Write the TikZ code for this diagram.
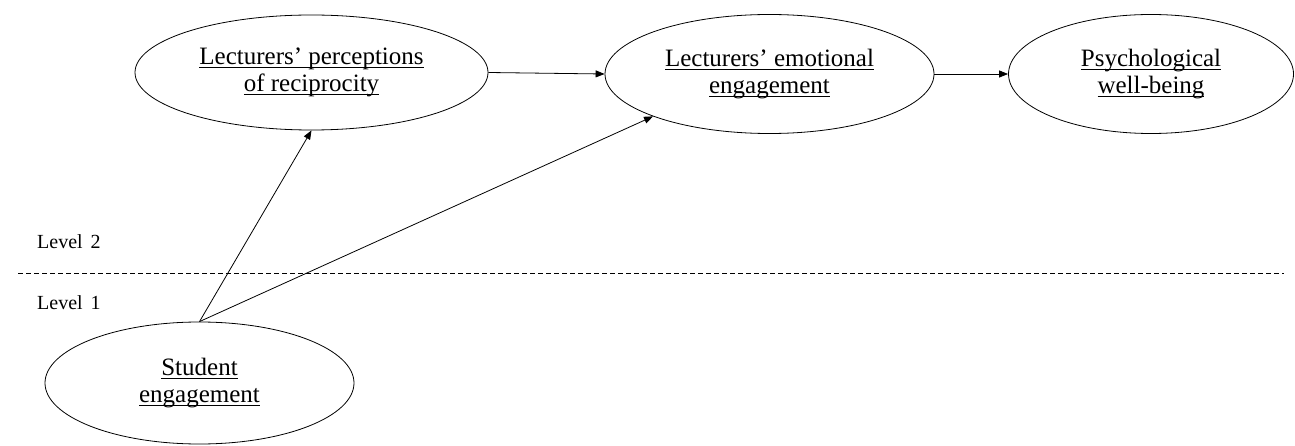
\documentclass[tikz,border=0pt]{standalone}
\usepackage{fontspec}
\setmainfont{Liberation Serif}
\usetikzlibrary{arrows.meta,shapes.geometric}

\newlength{\ulwd}
\newcommand{\uln}[1]{\settowidth{\ulwd}{#1}\rlap{\rule[-3.5pt]{\ulwd}{0.9pt}}#1}

\begin{document}
\begin{tikzpicture}[x=1pt, y=-1pt, >={Triangle[length=9pt,width=7pt]}]

\tikzset{
  latent/.style={draw, ellipse, line width=0.8pt, inner sep=0pt, align=center,
    font=\fontsize{25}{27.5}\selectfont},
  arr/.style={->, line width=0.8pt},
  lvl/.style={anchor=base west, inner sep=0pt, font=\fontsize{20}{24}\selectfont}
}

\useasboundingbox (0,0) rectangle (1295,446);

% --- Nível 2 ---
\node[latent, minimum width=353pt, minimum height=115pt] (recip) at (311.5,72.5)
  {\uln{Lecturers' perceptions}\\\uln{of reciprocity}};
\node[latent, minimum width=329pt, minimum height=119pt] (emot) at (769.5,74)
  {\uln{Lecturers' emotional}\\\uln{engagement}};
\node[latent, minimum width=285pt, minimum height=119pt] (wellb) at (1151,74)
  {\uln{Psychological}\\\uln{well-being}};

% --- Nível 1 ---
\node[latent, minimum width=309pt, minimum height=122pt] (stud) at (199.5,383)
  {\uln{Student}\\\uln{engagement}};

% --- Separação entre níveis ---
\coordinate (sepL) at (18,273.5);
\coordinate (sepR) at (1284,273.5);
\draw[line width=0.8pt, dash pattern=on 4.5pt off 3.5pt] (sepL) -- (sepR);
\node[lvl] (lev2) at (37,249) {Level\hspace{0.4em}2};
\node[lvl] (lev1) at (37,309) {Level\hspace{0.4em}1};

% --- Setas ---
\draw[arr] (recip.east) -- (emot.west);
\draw[arr] (emot.east) -- (wellb.west);
\draw[arr] (stud.north) -- (recip.south);
\draw[arr] (stud.north) -- (emot.200);

\end{tikzpicture}
\end{document}
